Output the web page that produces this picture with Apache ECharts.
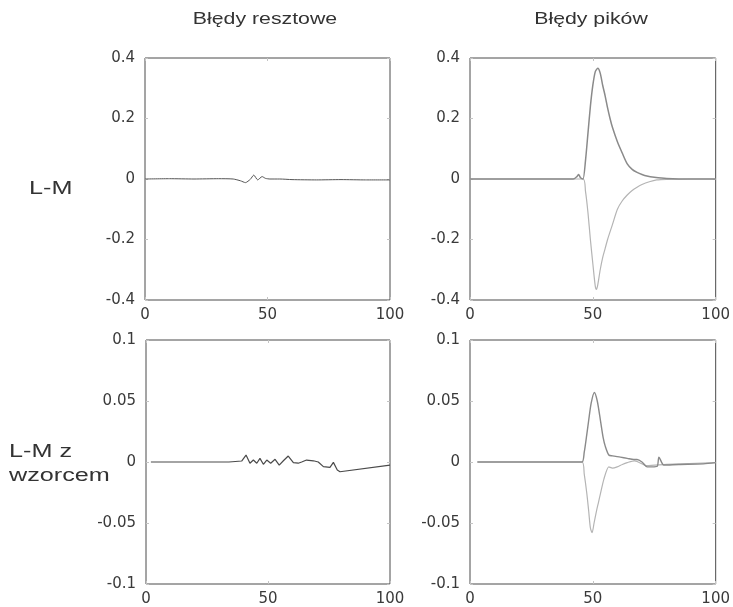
<!DOCTYPE html>
<html>
<head>
<meta charset="utf-8">
<script src="https://cdn.jsdelivr.net/npm/echarts@6/dist/echarts.min.js"></script>
<style>
  html, body { margin: 0; padding: 0; background: #fff; }
  #chart { width: 733px; height: 607px; }
</style>
</head>
<body>
<div id="chart"></div>
<script>
// tick labels
const xTicks = [0, 50, 100]
const yTicksTop = [-0.4, -0.2, 0, 0.2, 0.4]
const yTicksBottom = [-0.1, -0.05, 0, 0.05, 0.1]

const colTitles = ['Błędy resztowe', 'Błędy pików']
const rowTitles = [['L-M'], ['L-M z', 'wzorcem']]

// L-M, residual errors
const residLM_x = [0, 10, 20, 30, 36, 39, 41, 43, 44.4, 46, 47.8, 49.2, 51, 55, 60, 70, 80, 90, 100]
const residLM_y = [0, 0.001, 0, 0.001, 0, -0.006, -0.012, -0.001, 0.013, -0.003, 0.008, 0.002, 0, 0, -0.002, -0.003, -0.002, -0.003, -0.003]

// L-M, peak errors (upper and lower curve)
const peakLMup_x = [0, 42, 43.5, 44.2, 45, 46, 47, 48, 49, 50, 51, 52, 53, 54, 55, 56, 57, 58, 60, 62, 64, 66, 68, 70, 72, 75, 80, 90, 100]
const peakLMup_y = [0, 0, 0.008, 0.015, 0.004, 0, 0.06, 0.15, 0.24, 0.31, 0.355, 0.366, 0.35, 0.31, 0.275, 0.235, 0.2, 0.17, 0.123, 0.085, 0.05, 0.032, 0.022, 0.015, 0.01, 0.006, 0.002, 0, 0]
const peakLMlo_x = [0, 46, 47, 48, 49, 50, 51, 51.5, 52, 53, 54, 55, 56, 58, 60, 62, 64, 66, 68, 70, 73, 76, 80, 90, 100]
const peakLMlo_y = [0, 0, -0.04, -0.11, -0.2, -0.28, -0.355, -0.365, -0.35, -0.3, -0.26, -0.23, -0.2, -0.15, -0.1, -0.072, -0.053, -0.038, -0.027, -0.018, -0.009, -0.003, -0.001, 0, 0]

// L-M z wzorcem, residual errors
const residRef_x = [2, 20, 34, 39.2, 41, 42.6, 44, 45.4, 46.7, 48.1, 49.5, 51.1, 52.9, 54.6, 56.3, 58.3, 60.4, 62.4, 63.8, 65.8, 68.6, 70.6, 72.7, 75.4, 76.8, 78.4, 79.5, 100]
const residRef_y = [0, 0, 0, 0.0008, 0.0057, -0.001, 0.0016, -0.001, 0.003, -0.0019, 0.0016, -0.001, 0.0022, -0.0025, 0.001, 0.0049, -0.0005, -0.001, 0, 0.0016, 0.001, 0, -0.0038, -0.0044, -0.0003, -0.0066, -0.008, -0.0025]

// L-M z wzorcem, peak errors
const peakRefUp_x = [3, 20, 40, 45.6, 46.5, 47.5, 48.3, 49.3, 50.6, 51.8, 53.1, 54.2, 55.1, 56.5, 58, 61.2, 64, 66.6, 68, 70, 72.1, 74, 76.2, 76.9, 78.9, 85, 95, 100]
const peakRefUp_y = [0, 0, 0, 0, 0.008, 0.022, 0.034, 0.048, 0.057, 0.05, 0.034, 0.02, 0.0126, 0.0057, 0.005, 0.004, 0.003, 0.002, 0.002, 0, -0.004, -0.004, -0.0035, 0.004, -0.0025, -0.002, -0.0015, -0.0005]
const peakRefLo_x = [3, 45.6, 46.5, 47.5, 48.3, 49, 49.7, 50.5, 51.5, 52.3, 53.1, 54.5, 56.5, 58, 59.9, 62, 64, 67, 72, 80, 100]
const peakRefLo_y = [0, 0, -0.01, -0.025, -0.04, -0.054, -0.058, -0.05, -0.04, -0.033, -0.026, -0.014, -0.004, -0.005, -0.004, -0.002, -0.0005, 0.001, -0.003, -0.002, -0.0005]

const zip = (xs, ys) => xs.map((x, i) => [x, ys[i]])

const panels = [
	{ left: 145, top: 58, width: 245, height: 242, yTicks: yTicksTop },
	{ left: 470, top: 58, width: 246, height: 242, yTicks: yTicksTop },
	{ left: 146, top: 340, width: 244, height: 244, yTicks: yTicksBottom },
	{ left: 470, top: 340, width: 246, height: 244, yTicks: yTicksBottom },
]

const labelStyle = {
	color: '#3a3a3a',
	fontFamily: 'DejaVu Sans',
	fontSize: 15,
}
const tickStyle = { show: true, inside: true, length: 3, lineStyle: { color: '#c4c4c4' } }
const noLine = { show: false, onZero: false }

const grid = []
const xAxis = []
const yAxis = []
panels.forEach((p, i) => {
	grid.push({
		left: p.left, top: p.top, width: p.width, height: p.height,
		show: true, borderColor: '#4a4a4a', borderWidth: 1,
	})
	const yt = p.yTicks
	const yStep = yt[1] - yt[0]
	const xRange = { min: xTicks[0], max: xTicks[xTicks.length - 1], interval: xTicks[1] - xTicks[0] }
	const yRange = { min: yt[0], max: yt[yt.length - 1], interval: yStep }
	xAxis.push({
		type: 'value', gridIndex: i, position: 'bottom', ...xRange,
		axisLine: noLine, splitLine: { show: false },
		axisTick: tickStyle,
		axisLabel: { ...labelStyle, margin: 8 },
	})
	xAxis.push({
		type: 'value', gridIndex: i, position: 'top', ...xRange,
		axisLine: noLine, splitLine: { show: false },
		axisTick: tickStyle, axisLabel: { show: false },
	})
	yAxis.push({
		type: 'value', gridIndex: i, position: 'left', ...yRange,
		axisLine: noLine, splitLine: { show: false },
		axisTick: tickStyle,
		axisLabel: { ...labelStyle, margin: 10 },
	})
	yAxis.push({
		type: 'value', gridIndex: i, position: 'right', ...yRange,
		axisLine: noLine, splitLine: { show: false },
		axisTick: tickStyle, axisLabel: { show: false },
	})
})

const line = (panel, data, color, width, z, smooth) => ({
	type: 'line',
	xAxisIndex: panel * 2,
	yAxisIndex: panel * 2,
	data: data,
	showSymbol: false,
	smooth: smooth,
	z: z,
	lineStyle: { color: color, width: width },
})

const series = [
	line(0, zip(residLM_x, residLM_y), '#555', 1, 3, 0.2),
	line(1, zip(peakLMlo_x, peakLMlo_y), '#b4b4b4', 1.2, 2, 0.25),
	line(1, zip(peakLMup_x, peakLMup_y), '#8a8a8a', 1.5, 3, 0.25),
	line(2, zip(residRef_x, residRef_y), '#4a4a4a', 1.2, 3, false),
	line(3, zip(peakRefLo_x, peakRefLo_y), '#b4b4b4', 1.2, 2, 0.25),
	line(3, zip(peakRefUp_x, peakRefUp_y), '#8a8a8a', 1.4, 3, 0.25),
]

const textFill = '#333'
const graphic = [
	{ type: 'text', x: 265, y: 20, scaleX: 1.33,
		style: { text: colTitles[0], fontFamily: 'Liberation Sans', fontSize: 16, fill: textFill, align: 'center', verticalAlign: 'middle' } },
	{ type: 'text', x: 591, y: 20, scaleX: 1.33,
		style: { text: colTitles[1], fontFamily: 'Liberation Sans', fontSize: 16, fill: textFill, align: 'center', verticalAlign: 'middle' } },
	{ type: 'text', x: 29, y: 189, scaleX: 1.4,
		style: { text: rowTitles[0][0], fontFamily: 'Liberation Sans', fontSize: 18, fill: textFill, align: 'left', verticalAlign: 'middle' } },
	{ type: 'text', x: 9, y: 452, scaleX: 1.4,
		style: { text: rowTitles[1][0], fontFamily: 'Liberation Sans', fontSize: 18, fill: textFill, align: 'left', verticalAlign: 'middle' } },
	{ type: 'text', x: 9, y: 476, scaleX: 1.4,
		style: { text: rowTitles[1][1], fontFamily: 'Liberation Sans', fontSize: 18, fill: textFill, align: 'left', verticalAlign: 'middle' } },
]

const chart = echarts.init(document.getElementById('chart'))
chart.setOption({
	animation: false,
	backgroundColor: '#fff',
	grid: grid,
	xAxis: xAxis,
	yAxis: yAxis,
	series: series,
	graphic: graphic,
})
</script>
</body>
</html>
